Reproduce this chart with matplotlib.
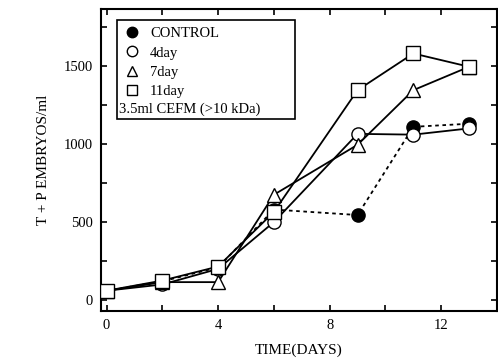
import matplotlib
matplotlib.use("Agg")
import matplotlib.pyplot as plt
from matplotlib.lines import Line2D
from matplotlib.patches import Rectangle

plt.rcParams['font.family'] = ['Liberation Serif', 'DejaVu Serif']

days_control = [0, 2, 4, 6, 9, 11, 13]
control = [60, 120, 210, 580, 545, 1110, 1130]
days = [0, 2, 4, 6, 9, 11, 13]
day4 = [60, 100, 200, 500, 1065, 1060, 1100]
day7 = [60, 115, 115, 675, 995, 1345, 1495]
day11 = [60, 125, 215, 565, 1345, 1580, 1495]

series_labels = ['CONTROL', '4day', '7day', '11day']
note = '3.5ml CEFM (>10 kDa)'
xticks = [0, 2, 4, 6, 8, 10, 12, 14]
xticklabels = ['0', '', '4', '', '8', '', '12', '']
yticks = [0, 250, 500, 750, 1000, 1250, 1500, 1750]
yticklabels = ['0', '', '500', '', '1000', '', '1500', '']

fig = plt.figure(figsize=(4.98, 3.6), dpi=100)
ax = fig.add_axes([0.2028, 0.1361, 0.7952, 0.8389])

ms = 9.5
lw = 1.3
ax.plot(days_control, control, color='black', linestyle=(0, (2, 2)), linewidth=lw,
        marker='o', markersize=ms, markerfacecolor='black', markeredgecolor='black', zorder=3)
ax.plot(days, day4, color='black', linewidth=lw, marker='o', markersize=ms,
        markerfacecolor='white', markeredgecolor='black', markeredgewidth=1.0, zorder=3)
ax.plot(days, day7, color='black', linewidth=lw, marker='^', markersize=ms + 1,
        markerfacecolor='white', markeredgecolor='black', markeredgewidth=1.0, zorder=3)
ax.plot(days, day11, color='black', linewidth=lw, marker='s', markersize=ms,
        markerfacecolor='white', markeredgecolor='black', markeredgewidth=1.0, zorder=4)

ax.set_xlim(-0.2, 14)
ax.set_ylim(-70, 1865)
ax.set_xticks(xticks)
ax.set_xticklabels(xticklabels)
ax.set_yticks(yticks)
ax.set_yticklabels(yticklabels)
ax.tick_params(direction='in', length=4.5, width=1.2, top=True, right=True,
               labelsize=10.5, pad=6)
for s in ax.spines.values():
    s.set_linewidth(1.5)

ax.set_xlabel('TIME(DAYS)', fontsize=11, labelpad=8)
ax.set_ylabel('T + P EMBRYOS/ml', fontsize=11, labelpad=10)

# legend box
ax.add_patch(Rectangle((0.040, 0.636), 0.450, 0.328, transform=ax.transAxes,
                       facecolor='white', edgecolor='black', linewidth=1.2, zorder=5))
handles = [
    Line2D([], [], linestyle='none', marker='o', markersize=7.5, markerfacecolor='black', markeredgecolor='black'),
    Line2D([], [], linestyle='none', marker='o', markersize=7.5, markerfacecolor='white', markeredgecolor='black'),
    Line2D([], [], linestyle='none', marker='^', markersize=7.5, markerfacecolor='white', markeredgecolor='black'),
    Line2D([], [], linestyle='none', marker='s', markersize=7.5, markerfacecolor='white', markeredgecolor='black'),
]
leg = ax.legend(handles, series_labels, loc='upper left', bbox_to_anchor=(0.05, 0.955),
                frameon=False, fontsize=10.5, handlelength=1.0, handletextpad=0.7,
                labelspacing=0.42, borderpad=0.3, borderaxespad=0)
leg.set_zorder(6)
ax.text(0.046, 0.669, note, transform=ax.transAxes, fontsize=10.5, va='center', ha='left', zorder=7)

fig.savefig('out.png', dpi=100)
